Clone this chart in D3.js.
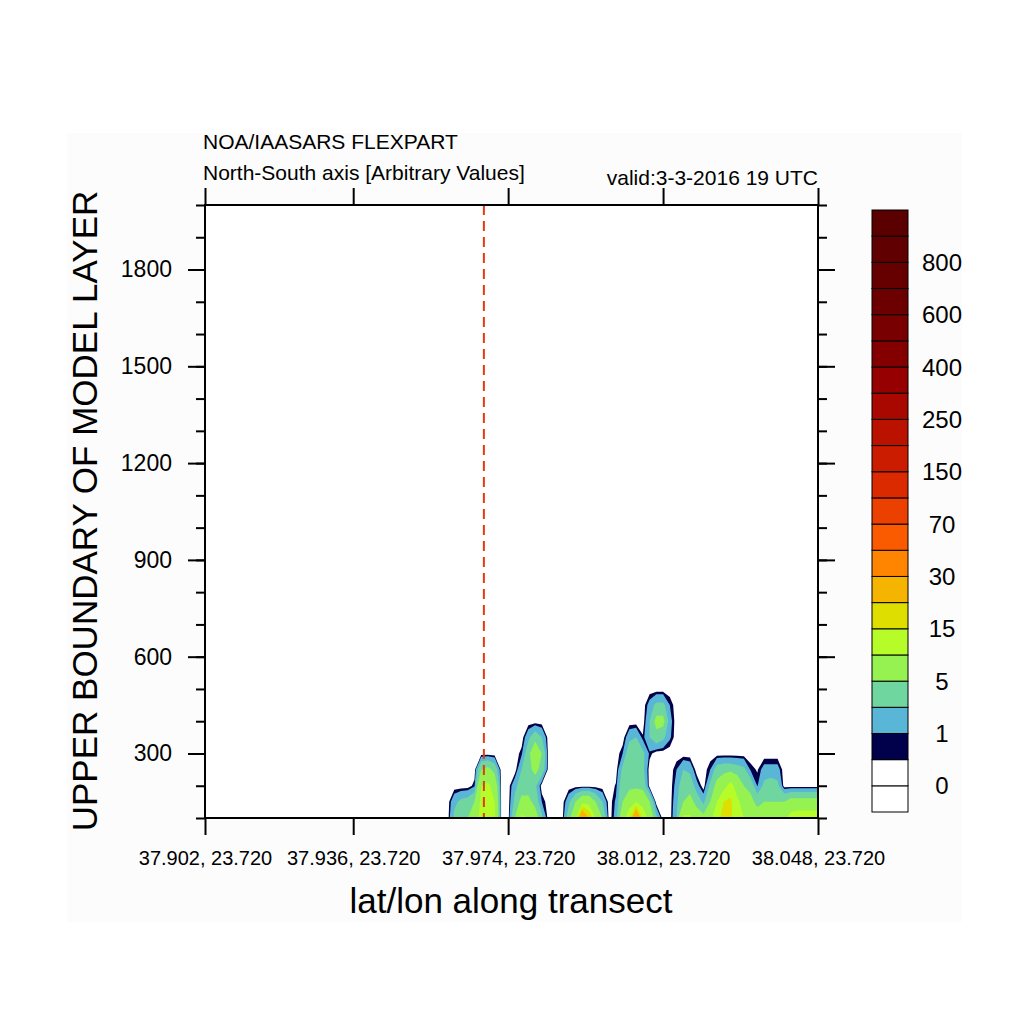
<!DOCTYPE html>
<html lang="en">
<head>
  <meta charset="UTF-8">
  <title>FLEXPART transect</title>
  <script src="https://d3js.org/d3.v7.min.js"></script>
  <style>
    body { margin: 0; background: #fff; }
    text { font-family: "Liberation Sans", Arial, sans-serif; fill: #000; }
    .axis line { stroke: #000; stroke-width: 2; }
    .cbar rect { stroke: #000; stroke-width: 1; }
  </style>
</head>
<body>
<svg id="chart" width="1024" height="1024"></svg>
<script>

// contour levels and colours (colour i sits below level i, last one above the top level)
var levels = [0, 0.5, 1, 2.5, 5, 10, 15, 20, 30, 50, 70, 100, 150, 200, 250, 300, 400, 500, 600, 700, 800, 900];
var colors = ['#ffffff', '#ffffff', '#00004b', '#5ab6d6', '#70d6a0', '#96f250', '#b6fc28', '#dede00',
              '#f5b400', '#ff8400', '#fa5a00', '#eb4000', '#dc2a00', '#cc1c00', '#bb1200', '#a80800',
              '#960000', '#840000', '#780000', '#6c0000', '#660000', '#600000', '#5a0000'];

// axis ticks
var yMajor = [300, 600, 900, 1200, 1500, 1800];
var yMinor = [100, 200, 300, 400, 500, 600, 700, 800, 900, 1000, 1100, 1200, 1300, 1400, 1500, 1600, 1700, 1800, 1900, 2000];
var xTickCols = [0, 22, 45, 68, 91];
var xTickLabels = ['37.902, 23.720', '37.936, 23.720', '37.974, 23.720', '38.012, 23.720', '38.048, 23.720'];

// transect grid: 92 columns, layers every 50 m; values below start at column 36 (left of it is empty)
var nCols = 92;
var firstCol = 36;
var heights = [100, 150, 200, 250, 300, 350, 400, 450, 500];
var layer100 = [0, 3, 4, 5, 7, 12, 14, 11, 0, 0,
                5, 11, 10, 7, 3, 0, 0, 0, 4, 9,
                32, 20, 10, 5, 0, 1.5, 8, 13, 32, 14,
                8, 3, 0, 0, 2.5, 11, 11, 7, 6, 9,
                12, 18, 16, 12, 10, 8, 7, 7, 8, 8,
                9, 12, 13, 13, 13, 13];
var layer150 = [0, 2, 3, 3.5, 5, 11, 13, 10, 0, 0,
                3, 6, 6, 4, 1, 0, 0, 0, 2, 5,
                8, 8, 5, 2.5, 0, 1.2, 5, 8, 10, 8,
                5, 0, 0, 0, 2, 5, 6, 4, 2, 5,
                10, 15, 16, 11, 8, 6, 4, 5, 5, 5,
                5, 6.5, 6.5, 6.5, 6.5, 6.5];
var layer200 = [0, 0, 0, 0, 0.8, 10, 11, 8, 0, 0,
                2, 3.5, 3.5, 3, 0, 0, 0, 0, 0, 0,
                0, 0, 0, 0, 0, 0.6, 4, 4, 4, 4,
                0, 0, 0, 0, 1.5, 4, 4, 1.5, 0, 3,
                6, 8, 12, 8, 5, 4, 0.9, 3, 3.5, 3,
                0, 0, 0, 0, 0, 0];
var layer250 = [0, 0, 0, 0, 0, 5, 6, 4, 0, 0,
                0, 2.5, 4, 6, 4, 0, 0, 0, 0, 0,
                0, 0, 0, 0, 0, 0, 3, 4, 4, 3,
                0, 0, 0, 0, 1, 2.5, 2, 0, 0, 1,
                3.5, 4, 4, 3.5, 3, 0.8, 0.4, 1.5, 1.5, 1.5,
                0, 0, 0, 0, 0, 0];
var layer300 = [0, 0, 0, 0, 0, 0, 0, 0, 0, 0,
                0, 0.8, 4, 8, 5, 0, 0, 0, 0, 0,
                0, 0, 0, 0, 0, 0, 1, 4, 4, 3,
                0.8, 0, 0, 0, 0, 0, 0, 0, 0, 0,
                0, 0, 0, 0, 0, 0, 0, 0, 0, 0,
                0, 0, 0, 0, 0, 0];
var layer350 = [0, 0, 0, 0, 0, 0, 0, 0, 0, 0,
                0, 0, 2, 4, 2.5, 0, 0, 0, 0, 0,
                0, 0, 0, 0, 0, 0, 0, 2, 2.5, 0.6,
                2.5, 4, 3, 1.2, 0, 0, 0, 0, 0, 0,
                0, 0, 0, 0, 0, 0, 0, 0, 0, 0,
                0, 0, 0, 0, 0, 0];
var layer400 = [0, 0, 0, 0, 0, 0, 0, 0, 0, 0,
                0, 0, 0, 0, 0, 0, 0, 0, 0, 0,
                0, 0, 0, 0, 0, 0, 0, 0, 0, 0,
                2.5, 6, 6, 1.5, 0, 0, 0, 0, 0, 0,
                0, 0, 0, 0, 0, 0, 0, 0, 0, 0,
                0, 0, 0, 0, 0, 0];
var layer450 = [0, 0, 0, 0, 0, 0, 0, 0, 0, 0,
                0, 0, 0, 0, 0, 0, 0, 0, 0, 0,
                0, 0, 0, 0, 0, 0, 0, 0, 0, 0,
                1.5, 3, 3, 1, 0, 0, 0, 0, 0, 0,
                0, 0, 0, 0, 0, 0, 0, 0, 0, 0,
                0, 0, 0, 0, 0, 0];
var layer500 = [];   // nothing reaches 500 m
var layers = [layer100, layer150, layer200, layer250, layer300, layer350, layer400, layer450, layer500];

// position of the receptor marker (grid column)
var markerCol = 41.4;

var svg = d3.select('#chart');
var plot = {left: 205, right: 818, top: 205, bottom: 818};

var x = d3.scaleLinear().domain([0, nCols - 1]).range([plot.left, plot.right]);
var y = d3.scaleLinear().domain([100, 2000]).range([plot.bottom, plot.top]);

// faint page panel
svg.append('rect')
    .attr('x', 67).attr('y', 133)
    .attr('width', 895).attr('height', 789)
    .attr('fill', '#fcfcfc');

svg.append('clipPath')
    .attr('id', 'frame-clip')
  .append('rect')
    .attr('x', plot.left).attr('y', plot.top)
    .attr('width', plot.right - plot.left)
    .attr('height', plot.bottom - plot.top);

svg.append('rect')
    .attr('x', plot.left).attr('y', plot.top)
    .attr('width', plot.right - plot.left)
    .attr('height', plot.bottom - plot.top)
    .attr('fill', '#fff');

// flatten the layers into the grid d3.contours wants
var grid = [];
layers.forEach(function(row) {
  for (var c = 0; c < nCols; c++) {
    var v = c >= firstCol ? row[c - firstCol] : 0;
    grid.push(v === undefined ? 0 : v);
  }
});

var step = heights[1] - heights[0];
var toScreen = d3.geoTransform({
  point: function(gx, gy) {
    this.stream.point(x(gx - 0.5), y(heights[0] + (gy - 0.5) * step));
  }
});
var path = d3.geoPath(toScreen);

var contours = d3.contours()
    .size([nCols, layers.length])
    .thresholds(levels)(grid);

svg.append('g')
    .attr('clip-path', 'url(#frame-clip)')
  .selectAll('path')
  .data(contours.slice(1))
  .enter()
  .append('path')
    .attr('d', path)
    .attr('fill', function(d, i) { return colors[i + 2]; });

// dashed marker
svg.append('line')
    .attr('x1', x(markerCol)).attr('x2', x(markerCol))
    .attr('y1', plot.top).attr('y2', plot.bottom)
    .attr('stroke', '#e03c14')
    .attr('stroke-width', 2)
    .attr('stroke-dasharray', '10,6');

// axes
function axisGroup(axis, tx, ty) {
  var g = svg.append('g')
      .attr('class', 'axis')
      .attr('transform', 'translate(' + tx + ',' + ty + ')')
      .call(axis);
  g.select('.domain').remove();
  g.selectAll('text')
      .attr('font-family', '"Liberation Sans", Arial, sans-serif')
      .attr('fill', '#000');
  return g;
}

axisGroup(d3.axisLeft(y).tickValues(yMinor).tickSize(9).tickFormat(''), plot.left, 0);
axisGroup(d3.axisLeft(y).tickValues(yMajor).tickSize(17).tickPadding(16).tickFormat(d3.format('d')), plot.left, 0)
    .selectAll('text').attr('font-size', 23);
axisGroup(d3.axisRight(y).tickValues(yMinor).tickSize(9).tickFormat(''), plot.right, 0);
axisGroup(d3.axisRight(y).tickValues(yMajor).tickSize(17).tickFormat(''), plot.right, 0);
axisGroup(d3.axisTop(x).tickValues(xTickCols).tickSize(17).tickFormat(''), 0, plot.top);
axisGroup(d3.axisBottom(x).tickValues(xTickCols).tickSize(17).tickPadding(16)
            .tickFormat(function(d, i) { return xTickLabels[i]; }), 0, plot.bottom)
    .selectAll('text').attr('font-size', 20);

svg.append('rect')
    .attr('x', plot.left).attr('y', plot.top)
    .attr('width', plot.right - plot.left)
    .attr('height', plot.bottom - plot.top)
    .attr('fill', 'none')
    .attr('stroke', '#000')
    .attr('stroke-width', 2);

// titles
svg.append('text')
    .attr('x', 203).attr('y', 149)
    .attr('font-size', 21)
    .text('NOA/IAASARS FLEXPART');
svg.append('text')
    .attr('x', 203).attr('y', 180)
    .attr('font-size', 21)
    .text('North-South axis [Arbitrary Values]');
svg.append('text')
    .attr('x', 818).attr('y', 185)
    .attr('font-size', 21)
    .attr('text-anchor', 'end')
    .text('valid:3-3-2016 19 UTC');

svg.append('text')
    .attr('transform', 'translate(97, 511) rotate(-90)')
    .attr('font-size', 35)
    .attr('text-anchor', 'middle')
    .text('UPPER BOUNDARY OF MODEL LAYER');

svg.append('text')
    .attr('x', 511).attr('y', 913)
    .attr('font-size', 35)
    .attr('text-anchor', 'middle')
    .text('lat/lon along transect');

// colour bar
var cb = d3.scaleLinear().domain([0, colors.length]).range([812, 210]);
var cbar = svg.append('g').attr('class', 'cbar');

cbar.selectAll('rect')
    .data(colors)
    .enter()
    .append('rect')
      .attr('x', 872)
      .attr('width', 36)
      .attr('y', function(d, i) { return cb(i + 1); })
      .attr('height', function(d, i) { return cb(i) - cb(i + 1); })
      .attr('fill', function(d) { return d; });

cbar.selectAll('text')
    .data(levels.filter(function(d, i) { return i % 2 === 0; }))
    .enter()
    .append('text')
      .attr('x', 942)
      .attr('y', function(d, i) { return cb(2 * i + 1); })
      .attr('dy', '0.36em')
      .attr('font-size', 24)
      .attr('text-anchor', 'middle')
      .text(function(d) { return d; });

</script>
</html>
